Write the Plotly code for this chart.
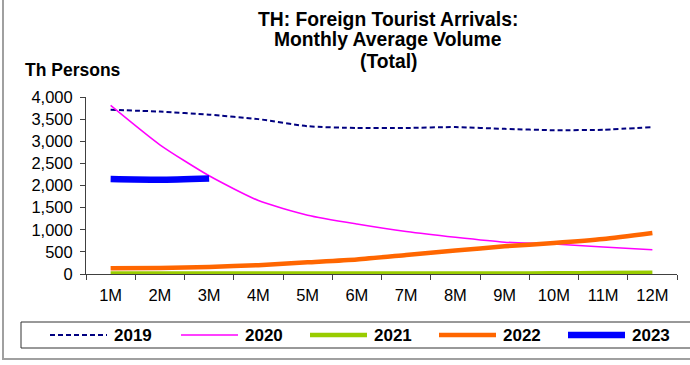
import plotly.graph_objects as go

months = ["1M", "2M", "3M", "4M", "5M", "6M", "7M", "8M", "9M", "10M", "11M", "12M"]

y2019 = [3710, 3670, 3600, 3500, 3340, 3300, 3300, 3320, 3280, 3250, 3260, 3320]
y2020 = [3810, 2920, 2220, 1660, 1330, 1130, 960, 830, 720, 680, 610, 550]
y2021 = [10, 10, 10, 10, 10, 10, 10, 10, 10, 15, 20, 30]
y2022 = [130, 135, 160, 200, 265, 330, 430, 530, 625, 700, 790, 925]
y2023 = [2145, 2130, 2160]

FONT = "Liberation Sans, Arial, sans-serif"

# pixel geometry of the plot area (690x365 canvas)
L, R, T, B = 86, 677, 97, 274


def px(x):
    return (x - L) / (R - L)


def py(y):
    return (B - y) / (B - T)


fig = go.Figure()

series = [
    ("2019", y2019, dict(color="#000080", width=2, dash="5px,3px")),
    ("2020", y2020, dict(color="#FF00FF", width=1.5)),
    ("2021", y2021, dict(color="#99CC00", width=4.5)),
    ("2022", y2022, dict(color="#FF6600", width=4.5)),
    ("2023", y2023, dict(color="#0000FF", width=6.5)),
]
for name, vals, line in series:
    fig.add_trace(
        go.Scatter(
            x=months[: len(vals)],
            y=vals,
            mode="lines",
            name=name,
            line=dict(shape="spline", smoothing=0.6, **line),
        )
    )

fig.update_layout(
    width=690,
    height=365,
    margin=dict(l=L, r=690 - R, t=T, b=365 - B, autoexpand=False),
    paper_bgcolor="white",
    plot_bgcolor="white",
    font=dict(family=FONT, size=16.5, color="black"),
    showlegend=False,
)

fig.update_xaxes(
    type="category",
    range=[-0.5, 11.5],
    showgrid=False,
    showline=True,
    linecolor="#404040",
    linewidth=1,
    ticks="outside",
    tickson="boundaries",
    ticklen=5,
    tickcolor="#404040",
    tickfont=dict(size=16.5),
    ticklabelstandoff=6,
    automargin=False,
    fixedrange=True,
)
fig.update_yaxes(
    range=[0, 4000],
    tickvals=[0, 500, 1000, 1500, 2000, 2500, 3000, 3500, 4000],
    tickformat=",d",
    showgrid=False,
    zeroline=False,
    showline=True,
    linecolor="#404040",
    linewidth=1,
    ticks="outside",
    ticklen=5,
    tickcolor="#404040",
    tickfont=dict(size=16.5),
    ticklabelstandoff=4,
    automargin=False,
    fixedrange=True,
)

# title lines
for txt, yc in [("TH: Foreign Tourist Arrivals:", 19), ("Monthly Average Volume", 40), ("(Total)", 61)]:
    fig.add_annotation(
        text="<b>" + txt + "</b>",
        xref="paper", yref="paper",
        x=px(388), y=py(yc),
        xanchor="center", yanchor="middle",
        showarrow=False,
        font=dict(size=19.3, family=FONT),
    )

fig.add_annotation(
    text="<b>Th Persons</b>",
    xref="paper", yref="paper",
    x=px(23), y=py(70),
    xanchor="left", yanchor="middle",
    showarrow=False,
    font=dict(size=17.5, family=FONT),
)

# legend (drawn by hand inside a framed box)
legend_x = [50, 181, 310, 439, 568]
for (name, vals, line), lx in zip(series, legend_x):
    fig.add_shape(
        type="line", xref="paper", yref="paper",
        x0=px(lx), x1=px(lx + 57), y0=py(335), y1=py(335),
        line=line,
    )
    fig.add_annotation(
        text="<b>" + name + "</b>",
        xref="paper", yref="paper",
        x=px(lx + 62), y=py(335),
        xanchor="left", yanchor="middle",
        showarrow=False,
        font=dict(size=17, family=FONT),
    )

fig.add_shape(
    type="rect", xref="paper", yref="paper",
    x0=px(21), x1=px(700), y0=py(348), y1=py(322),
    line=dict(color="#333333", width=1),
)
fig.add_shape(
    type="rect", xref="paper", yref="paper",
    x0=px(3), x1=px(720), y0=py(359), y1=py(-20),
    line=dict(color="#A0A0A0", width=2),
)

fig.write_html(
    "out.html",
    config={"displayModeBar": False},
    post_script="document.body.style.margin='0';",
)
